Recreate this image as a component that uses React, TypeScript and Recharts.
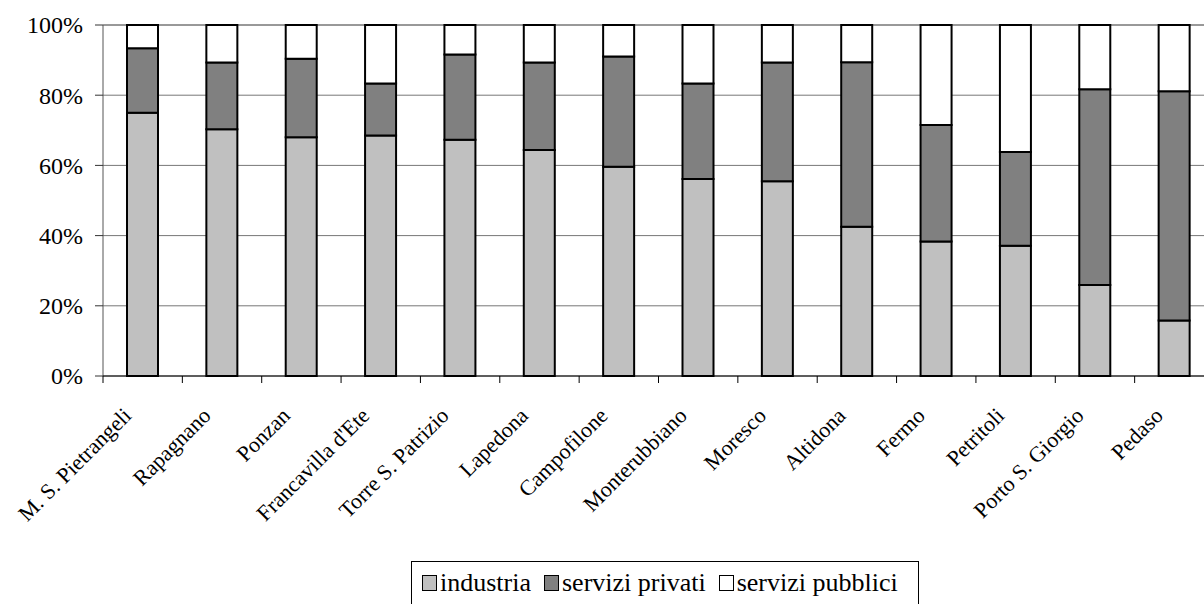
import React from 'react';
import { BarChart, Bar, XAxis, YAxis, CartesianGrid, Legend } from 'recharts';

const comuni = [
  'M. S. Pietrangeli', 'Rapagnano', 'Ponzan', "Francavilla d'Ete", 'Torre S. Patrizio',
  'Lapedona', 'Campofilone', 'Monterubbiano', 'Moresco', 'Altidona', 'Fermo',
  'Petritoli', 'Porto S. Giorgio', 'Pedaso',
];
const industria = [75.0, 70.3, 68.0, 68.5, 67.3, 64.4, 59.6, 56.1, 55.5, 42.5, 38.3, 37.1, 25.9, 15.8];
const serviziPrivati = [18.4, 19.0, 22.4, 14.8, 24.3, 24.9, 31.4, 27.2, 33.8, 46.9, 33.2, 26.7, 55.8, 65.3];
const serviziPubblici = [6.6, 10.7, 9.6, 16.7, 8.4, 10.7, 9.0, 16.7, 10.7, 10.6, 28.5, 36.2, 18.3, 18.9];
const yTicks = [0, 20, 40, 60, 80, 100];

const seriesNames = ['industria', 'servizi privati', 'servizi pubblici'];
const seriesColors = ['#C0C0C0', '#808080', '#FFFFFF'];

const data = comuni.map((c, i) => ({
  name: c,
  industria: industria[i],
  privati: serviziPrivati[i],
  pubblici: serviziPubblici[i],
}));

const FONT = 'Liberation Serif, DejaVu Serif, serif';

const XTick = (props: any) => {
  const { x, y, payload } = props;
  const off = payload.offset || 0;
  const isLast = payload.index === comuni.length - 1;
  const ax = x - 10;
  const ay = y + 41;
  return (
    <g>
      <line x1={x - off} y1={y} x2={x - off} y2={y + 7} stroke="#000" strokeWidth={1} />
      {isLast && <line x1={x + off} y1={y} x2={x + off} y2={y + 7} stroke="#000" strokeWidth={1} />}
      <text
        x={ax}
        y={ay}
        textAnchor="end"
        transform={`rotate(-45, ${ax}, ${ay})`}
        style={{ fontFamily: FONT, fontSize: 22 }}
        fill="#000"
      >
        {payload.value}
      </text>
    </g>
  );
};

const YTick = (props: any) => {
  const { x, y, payload } = props;
  return (
    <text x={x} y={y} dy="0.35em" textAnchor="end" style={{ fontFamily: FONT, fontSize: 24 }} fill="#000">
      {`${payload.value}%`}
    </text>
  );
};

const LegendContent = () => (
  <div
    style={{
      border: '1px solid #000',
      background: '#fff',
      height: 50,
      boxSizing: 'border-box',
      padding: '7px 20px 0 10px',
      fontFamily: FONT,
      fontSize: 26,
      lineHeight: '28px',
      whiteSpace: 'nowrap',
      color: '#000',
    }}
  >
    {seriesNames.map((n, i) => (
      <span key={n} style={{ marginRight: i < seriesNames.length - 1 ? 13 : 0 }}>
        <span
          style={{
            display: 'inline-block',
            width: 15,
            height: 16,
            background: seriesColors[i],
            border: '1.5px solid #000',
            marginRight: 3,
            verticalAlign: 'baseline',
            boxSizing: 'border-box',
          }}
        />
        {n}
      </span>
    ))}
  </div>
);

export default function App() {
  return (
    <div
      style={{
        position: 'fixed',
        left: 0,
        top: 0,
        width: 1204,
        height: 604,
        overflow: 'hidden',
        background: '#fff',
      }}
    >
      <BarChart
        width={1230}
        height={604}
        data={data}
        margin={{ top: 25, right: 16, bottom: 0, left: 0 }}
        barSize={31}
      >
        <CartesianGrid horizontal vertical={false} stroke="#777" strokeWidth={1} />
        <YAxis
          width={103}
          domain={[0, 100]}
          ticks={yTicks}
          tickSize={8}
          tickMargin={12}
          axisLine={{ stroke: '#555', strokeWidth: 1 }}
          tickLine={{ stroke: '#333', strokeWidth: 1 }}
          tick={<YTick />}
          interval={0}
        />
        <XAxis
          dataKey="name"
          height={228}
          interval={0}
          tickSize={0}
          tickMargin={0}
          tickLine={false}
          axisLine={{ stroke: '#000', strokeWidth: 1 }}
          tick={<XTick />}
        />
        <Legend
          layout="horizontal"
          verticalAlign="middle"
          align="center"
          content={<LegendContent />}
          wrapperStyle={{ position: 'absolute', left: 411, top: 561, width: 'auto', height: 'auto' }}
        />
        <Bar dataKey="industria" name={seriesNames[0]} stackId="a" fill={seriesColors[0]} stroke="#000" strokeWidth={2} isAnimationActive={false} />
        <Bar dataKey="privati" name={seriesNames[1]} stackId="a" fill={seriesColors[1]} stroke="#000" strokeWidth={2} isAnimationActive={false} />
        <Bar dataKey="pubblici" name={seriesNames[2]} stackId="a" fill={seriesColors[2]} stroke="#000" strokeWidth={2} isAnimationActive={false} />
      </BarChart>
    </div>
  );
}
